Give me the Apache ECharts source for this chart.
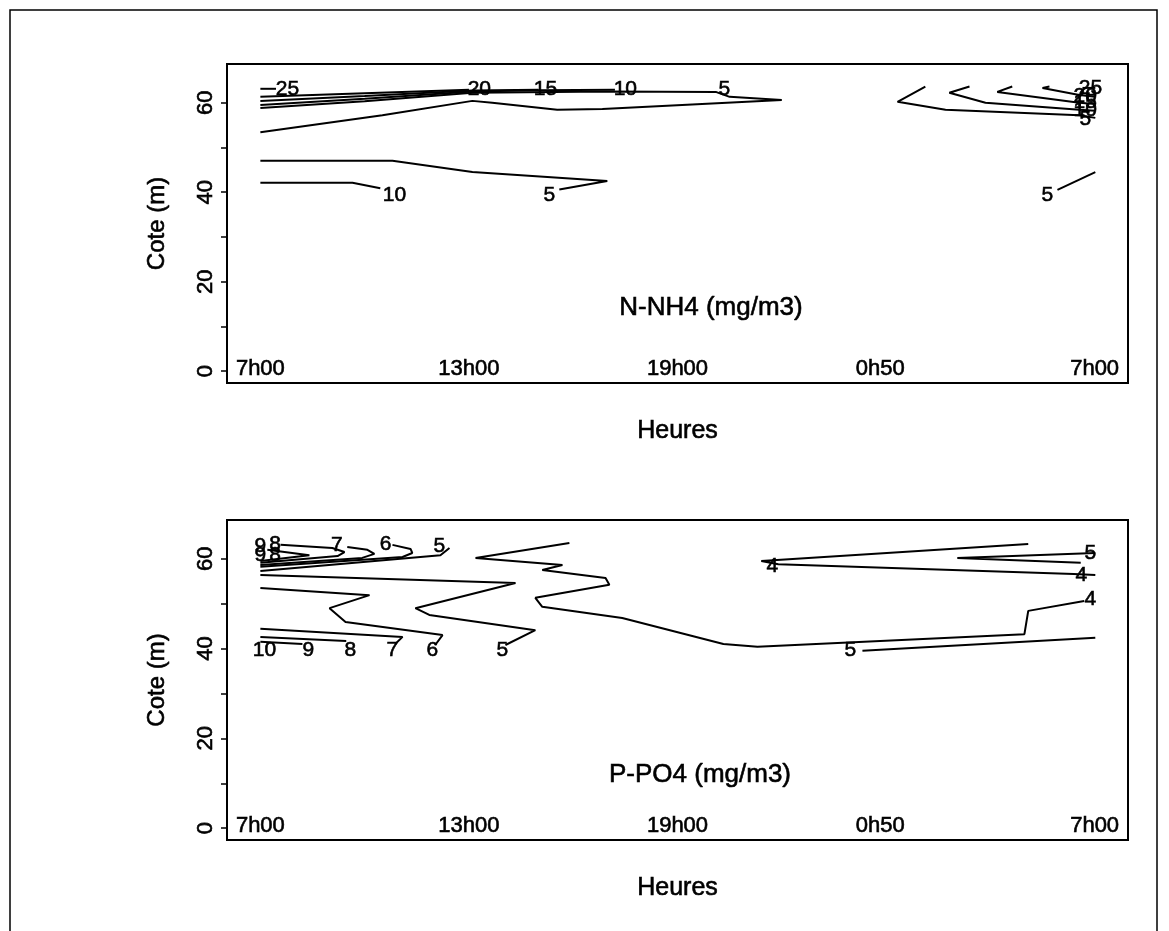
<!DOCTYPE html>
<html><head><meta charset="utf-8">
<script src="https://cdn.jsdelivr.net/npm/echarts@6/dist/echarts.min.js"></script>
<style>html,body{margin:0;padding:0;background:#fff}#c{width:1169px;height:931px}</style>
</head><body><div id="c"></div>
<script>
// ---- axes ----
const tickHours = [0, 6, 12, 17.83, 24];
const tickNames = ['7h00', '13h00', '19h00', '0h50', '7h00'];
const depthLabels = [0, 20, 40, 60];
const depthTicks = [0, 10, 20, 30, 40, 50, 60];

// ---- N-NH4 contour lines [hours since 7h00, cote m] ----
const nh4_25a = [[0,63.1],[0.45,63.1]];
const nh4_20a = [[0,61.3],[3.0,62.1],[6.0,62.9]];
const nh4_15a = [[0,60.4],[3.0,61.5],[6.1,62.7],[8.0,62.9]];
const nh4_10a = [[0,59.5],[3.0,60.9],[6.1,62.5],[8.0,62.8],[10.2,62.9]];
const nh4_5a  = [[0,58.8],[3.0,60.3],[6.1,62.2],[10.0,62.5],[13.1,62.4],[13.5,61.3],[15.0,60.6],[9.84,58.6],[8.54,58.4],[6.67,60.0],[6.1,60.4],[3.51,57.2],[0,53.4]];
const nh4_5b  = [[0,47.0],[3.8,47.0],[6.1,44.5],[9.98,42.5],[8.6,40.6]];
const nh4_10b = [[0,42.1],[2.65,42.1],[3.45,40.9]];
const nh4_5r  = [[19.13,63.6],[18.33,60.2],[19.71,58.4],[23.56,57.2],[24.02,56.6]];
const nh4_10r = [[20.4,63.6],[19.82,62.2],[20.86,60.0],[23.56,58.4],[24.02,58.2]];
const nh4_15r = [[21.63,63.6],[21.2,62.4],[23.56,60.0],[24.02,59.7]];
const nh4_20r = [[22.7,63.6],[22.5,63.3],[23.56,61.7],[24.02,61.3]];
const nh4_25r = [[23.65,63.3],[24.02,63.3]];
const nh4_5s  = [[22.93,40.5],[24.02,44.5]];
const nh4_labels = [[0.78,63.1,'25'],[6.3,63.1,'20'],[8.2,63.1,'15'],[10.5,63.1,'10'],[13.35,62.9,'5'],
  [8.31,39.4,'5'],[3.86,39.4,'10'],[22.64,39.4,'5'],
  [23.88,63.3,'25'],[23.73,61.5,'20'],[23.73,60.0,'15'],[23.73,58.4,'10'],[23.73,56.4,'5']];

// ---- P-PO4 contour lines ----
const po4_9a = [[0.2,62.0],[1.41,60.8],[0.98,60.4],[0,59.5]];
const po4_8a = [[0.58,63.1],[2.07,62.4],[2.42,61.5],[2.22,60.6],[0,59.1]];
const po4_7a = [[2.5,62.6],[3.08,62.0],[3.28,61.1],[2.93,60.2],[0,58.6]];
const po4_6a = [[3.8,63.1],[4.32,62.2],[4.37,61.3],[4.09,60.4],[0,58.2]];
const po4_5a = [[5.44,62.4],[5.18,60.8],[0,57.3]];
const po4_5b = [[0,56.4],[7.34,54.6],[4.46,49.0],[4.86,47.5],[7.91,44.1],[7.05,40.8]];
const po4_6b = [[0,53.5],[3.14,51.9],[1.99,49.0],[2.45,45.9],[5.24,43.0],[5.03,40.8]];
const po4_7b = [[0,44.4],[4.09,42.6],[3.88,41.0]];
const po4_8b = [[0,42.6],[2.47,41.7]];
const po4_9b = [[0,41.5],[1.21,41.0]];
const po4_4a = [[8.89,63.5],[6.19,60.2],[8.69,58.6],[8.11,57.5],[9.93,55.7],[10.04,54.2],[7.91,51.3],[8.11,49.3],[10.41,46.8],[13.32,41.0],[14.3,40.4],[21.98,43.2],[22.09,48.4],[23.7,50.6]];
const po4_5c = [[17.32,39.5],[24.02,42.4]];
const po4_4b = [[22.09,63.3],[14.41,59.5],[14.9,58.8],[23.4,56.6],[24.02,56.4]];
const po4_5d = [[24.02,61.3],[20.05,60.2],[23.6,59.1]];
const po4_labels = [[0.0,62.8,'9'],[0.42,63.3,'8'],[0.0,60.9,'9'],[0.42,60.9,'8'],
  [2.2,63.0,'7'],[3.6,63.3,'6'],[5.15,62.9,'5'],
  [0.12,39.7,'10'],[1.38,39.7,'9'],[2.59,39.7,'8'],[3.8,39.7,'7'],[4.95,39.7,'6'],[6.96,39.7,'5'],
  [16.97,39.7,'5'],[14.73,58.4,'4'],[23.62,56.4,'4'],[23.88,61.3,'5'],[23.88,51.0,'4']];

const nh4Lines = [nh4_25a,nh4_20a,nh4_15a,nh4_10a,nh4_5a,nh4_5b,nh4_10b,nh4_5r,nh4_10r,nh4_15r,nh4_20r,nh4_25r,nh4_5s];
const po4Lines = [po4_9a,po4_8a,po4_7a,po4_6a,po4_5a,po4_5b,po4_6b,po4_7b,po4_8b,po4_9b,po4_4a,po4_5c,po4_4b,po4_5d];

const FONT = 'Liberation Sans, Arial, Helvetica, sans-serif';
const THICK = {textBorderColor: '#000', textBorderWidth: 0.6};

function xAx(i) {
  return {
    type: 'value', gridIndex: i, min: -0.96, max: 24.96,
    axisLine: {show: false, onZero: false}, splitLine: {show: false}, axisTick: {show: false},
    axisLabel: Object.assign({
      inside: true, margin: 3, fontSize: 22, color: '#000', fontFamily: FONT,
      customValues: tickHours,
      formatter: v => { let k = 0, d = 1e9; tickHours.forEach((h, j) => { if (Math.abs(h - v) < d) { d = Math.abs(h - v); k = j; } }); return tickNames[k]; }
    }, THICK),
    name: 'Heures', nameLocation: 'middle', nameGap: 36,
    nameTextStyle: Object.assign({fontSize: 25, color: '#000', fontFamily: FONT}, THICK)
  };
}
function yAx(i) {
  return {
    type: 'value', gridIndex: i, min: -2.64, max: 68.64,
    axisLine: {show: false, onZero: false}, splitLine: {show: false},
    axisTick: {show: true, length: 6, customValues: depthTicks, lineStyle: {color: '#000', width: 1.5}},
    axisLabel: Object.assign({rotate: 90, margin: 10, fontSize: 22, color: '#000', fontFamily: FONT, customValues: depthLabels}, THICK),
    name: 'Cote (m)', nameLocation: 'middle', nameGap: 58, nameRotate: 90,
    nameTextStyle: Object.assign({fontSize: 24, color: '#000', fontFamily: FONT}, THICK)
  };
}
function lineSeries(arr, i) {
  return arr.map(d => ({
    type: 'line', xAxisIndex: i, yAxisIndex: i, data: d, showSymbol: false, symbol: 'none',
    lineStyle: {color: '#000', width: 2}, silent: true, z: 2
  }));
}
function labelSeries(arr, i) {
  return {
    type: 'scatter', xAxisIndex: i, yAxisIndex: i, data: arr, symbolSize: 0.01,
    itemStyle: {color: '#000', opacity: 1}, silent: true, z: 3,
    label: Object.assign({show: true, position: 'inside', formatter: p => p.data[2], fontSize: 21, color: '#000', opacity: 1, fontFamily: FONT}, THICK)
  };
}

const chart = echarts.init(document.getElementById('c'), null, {renderer: 'canvas'});
chart.setOption({
  animation: false,
  backgroundColor: '#fff',
  grid: [
    {left: 227, top: 64, width: 901, height: 319, show: true, borderColor: '#000', borderWidth: 2, backgroundColor: 'transparent'},
    {left: 227, top: 520, width: 901, height: 320, show: true, borderColor: '#000', borderWidth: 2, backgroundColor: 'transparent'}
  ],
  xAxis: [xAx(0), xAx(1)],
  yAxis: [yAx(0), yAx(1)],
  graphic: [
    {type: 'rect', shape: {x: 10, y: 10, width: 1147, height: 940}, style: {fill: 'none', stroke: '#000', lineWidth: 1.5}, silent: true},
    {type: 'text', x: 711, y: 308, style: {text: 'N-NH4 (mg/m3)', fontSize: 26, fontFamily: FONT, fill: '#000', stroke: '#000', lineWidth: 0.6, textAlign: 'center', textVerticalAlign: 'middle'}},
    {type: 'text', x: 700, y: 775, style: {text: 'P-PO4 (mg/m3)', fontSize: 26, fontFamily: FONT, fill: '#000', stroke: '#000', lineWidth: 0.6, textAlign: 'center', textVerticalAlign: 'middle'}}
  ],
  series: [].concat(lineSeries(nh4Lines, 0), lineSeries(po4Lines, 1), [labelSeries(nh4_labels, 0), labelSeries(po4_labels, 1)])
});
</script></body></html>
